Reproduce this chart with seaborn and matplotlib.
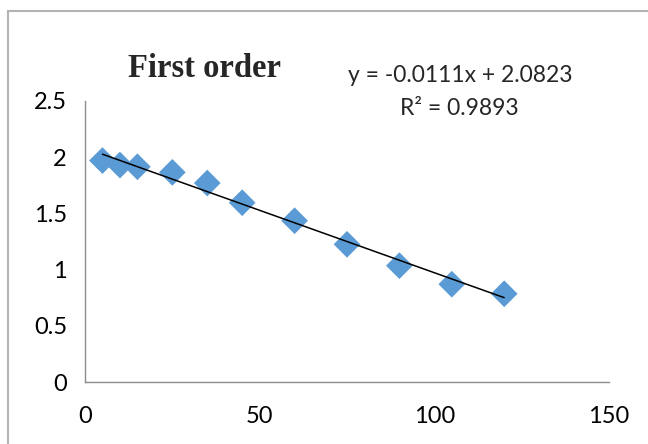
import numpy as np
import pandas as pd
import seaborn as sns
import matplotlib
matplotlib.use("Agg")
import matplotlib.pyplot as plt
from matplotlib.patches import Rectangle

# time (min) and log concentration
time_min = [5, 10, 15, 25, 35, 45, 60, 75, 90, 105, 120]
log_conc = [1.97, 1.93, 1.915, 1.865, 1.77, 1.595, 1.435, 1.225, 1.035, 0.87, 0.785]

# linear trendline coefficients
slope = -0.0111
intercept = 2.0823
r_squared = 0.9893

x_ticks = [0, 50, 100, 150]
y_ticks = [0, 0.5, 1, 1.5, 2, 2.5]

sns.set_theme(style="white")
plt.rcParams["font.family"] = ["Lato", "DejaVu Sans"]

fig = plt.figure(figsize=(6.48, 4.44), dpi=100)
ax = fig.add_axes([85 / 648, 1 - 382 / 444, (609 - 85) / 648, (382 - 101) / 444])

df = pd.DataFrame({"t": time_min, "y": log_conc})
sns.scatterplot(data=df, x="t", y="y", marker="D", s=185, color="#5B9BD5",
                edgecolor="none", ax=ax, zorder=3)

xf = np.array([min(time_min), max(time_min)])
ax.plot(xf, slope * xf + intercept, color="black", lw=1.1, zorder=4)

ax.set_xlim(0, 150)
ax.set_ylim(0, 2.5)
ax.set_xticks(x_ticks)
ax.set_yticks(y_ticks)
ax.set_xticklabels([str(v) for v in x_ticks])
ax.set_yticklabels([f"{v:g}" for v in y_ticks])
ax.set_xlabel("")
ax.set_ylabel("")

for side in ["top", "right"]:
    ax.spines[side].set_visible(False)
for side in ["left", "bottom"]:
    ax.spines[side].set_color("#8C8C8C")
    ax.spines[side].set_linewidth(1.0)
ax.tick_params(axis="both", which="major", direction="out", length=5,
               width=1.0, color="#8C8C8C", labelsize=17, labelcolor="black")
ax.tick_params(axis="x", pad=12)
ax.tick_params(axis="y", pad=8)

fig.text(204 / 648, 1 - 77 / 444, "First order", ha="center", va="baseline",
         fontsize=23.5, fontweight="bold", family=["Liberation Serif", "DejaVu Serif"])
fig.text(460 / 648, 1 - 82 / 444, f"y = {slope:.4f}x + {intercept:.4f}",
         ha="center", va="baseline", fontsize=16.5)
fig.text(459 / 648, 1 - 115 / 444, f"R² = {r_squared:.4f}",
         ha="center", va="baseline", fontsize=16.5)

fig.patches.append(Rectangle((8 / 648, -0.1), 1.2, 1 - 11 / 444 + 0.1,
                             transform=fig.transFigure, fill=False,
                             edgecolor="#B4B4B4", lw=1.5))

fig.savefig("out.png", dpi=100)
